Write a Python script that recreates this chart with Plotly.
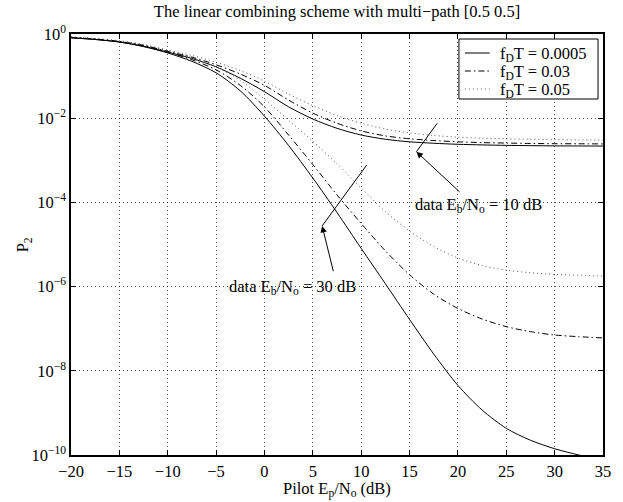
import plotly.graph_objects as go

# ---------------- data ----------------
pilot_snr = [-20, -17.5, -15, -12.5, -10, -7.5, -5, -2.5, 0, 2.5, 5, 7.5, 10, 12.5, 15, 17.5,
             20, 22.5, 25, 27.5, 30, 32.5, 35]

# data Eb/No = 10 dB
p_10db_fdt0005 = [0.813, 0.741, 0.646, 0.513, 0.372, 0.263, 0.166, 0.0891, 0.0427, 0.0186, 9.55e-3,
                  5.75e-3, 3.98e-3, 3.16e-3, 2.75e-3, 2.54e-3, 2.40e-3, 2.32e-3, 2.26e-3, 2.23e-3,
                  2.20e-3, 2.19e-3, 2.18e-3]
p_10db_fdt003 = [0.832, 0.759, 0.661, 0.537, 0.389, 0.282, 0.186, 0.112, 0.0603, 0.0269, 0.0132,
                 7.59e-3, 5.01e-3, 3.80e-3, 3.24e-3, 2.95e-3, 2.75e-3, 2.63e-3, 2.57e-3, 2.51e-3,
                 2.48e-3, 2.47e-3, 2.45e-3]
p_10db_fdt005 = [0.851, 0.776, 0.692, 0.562, 0.417, 0.309, 0.214, 0.135, 0.0759, 0.0372, 0.0200,
                 0.0115, 7.59e-3, 5.50e-3, 4.47e-3, 3.89e-3, 3.55e-3, 3.35e-3, 3.24e-3, 3.16e-3,
                 3.09e-3, 3.05e-3, 3.02e-3]

# data Eb/No = 30 dB
p_30db_fdt0005 = [0.813, 0.741, 0.646, 0.501, 0.355, 0.224, 0.120, 0.0447, 0.0112, 2.24e-3, 3.8e-4,
                  5.75e-5, 8.1e-6, 1.17e-6, 1.66e-7, 2.5e-8, 4.5e-9, 1.17e-9, 4.3e-10, 2.24e-10,
                  1.41e-10, 1.0e-10, 7.6e-11]
p_30db_fdt003 = [0.832, 0.759, 0.661, 0.525, 0.372, 0.245, 0.141, 0.0603, 0.0186, 3.98e-3, 7.94e-4,
                 1.51e-4, 3.16e-5, 7.08e-6, 1.91e-6, 6.61e-7, 3.02e-7, 1.70e-7, 1.12e-7, 8.51e-8,
                 7.08e-8, 6.46e-8, 6.03e-8]
p_30db_fdt005 = [0.851, 0.776, 0.676, 0.550, 0.398, 0.269, 0.166, 0.0794, 0.0282, 8.91e-3, 2.82e-3,
                 8.32e-4, 2.19e-4, 6.03e-5, 2.09e-5, 8.91e-6, 4.79e-6, 3.16e-6, 2.45e-6, 2.14e-6,
                 1.95e-6, 1.86e-6, 1.78e-6]

legend_labels = ["f<sub>D</sub>T = 0.0005", "f<sub>D</sub>T = 0.03", "f<sub>D</sub>T = 0.05"]
x_ticks = [-20, -15, -10, -5, 0, 5, 10, 15, 20, 25, 30, 35]
y_tick_vals = [1, 1e-2, 1e-4, 1e-6, 1e-8, 1e-10]
y_tick_text = ["10<sup>0</sup>", "10<sup>−2</sup>", "10<sup>−4</sup>", "10<sup>−6</sup>",
               "10<sup>−8</sup>", "10<sup>−10</sup>"]

# annotation marker lines (crossing marks) in data units
mark10_x = [15.71, 17.86]
mark10_y = [10 ** -2.796, 10 ** -2.121]
mark30_x = [5.96, 10.58]
mark30_y = [10 ** -4.56, 10 ** -3.11]

FONT = "Liberation Serif, Times New Roman, serif"
FS = 16.5

styles = [
    dict(color="black", width=1, dash="solid"),
    dict(color="black", width=1, dash="6px,3px,1.5px,3px"),
    dict(color="#555555", width=1, dash="1px,3px"),
]

fig = go.Figure()
series10 = [p_10db_fdt0005, p_10db_fdt003, p_10db_fdt005]
series30 = [p_30db_fdt0005, p_30db_fdt003, p_30db_fdt005]
for i in range(3):
    fig.add_trace(go.Scatter(x=pilot_snr, y=series10[i], mode="lines",
                             line=dict(shape="spline", smoothing=0.8, **styles[i]),
                             name=legend_labels[i], showlegend=False))
for i in range(3):
    fig.add_trace(go.Scatter(x=pilot_snr, y=series30[i], mode="lines",
                             line=dict(shape="spline", smoothing=0.8, **styles[i]),
                             name=legend_labels[i], showlegend=False))

for mx, my in [(mark10_x, mark10_y), (mark30_x, mark30_y)]:
    fig.add_trace(go.Scatter(x=mx, y=my, mode="lines", line=dict(color="black", width=1),
                             showlegend=False, hoverinfo="skip"))

# ---- pixel -> paper helpers for layout placement ----
PL, PR, PT, PB = 70.5, 606.0, 34.0, 455.0
def px(xp):
    return (xp - PL) / (PR - PL)
def py(yp):
    return 1 - (yp - PT) / (PB - PT)

annotations = [
    dict(x=15.71, y=-2.796, ax=20.33, ay=-3.784, axref="x", ayref="y", xref="x", yref="y",
         text="", showarrow=True, arrowhead=2, arrowsize=1.3, arrowwidth=1, arrowcolor="black"),
    dict(x=5.96, y=-4.56, ax=7.16, ay=-5.67, axref="x", ayref="y", xref="x", yref="y",
         text="", showarrow=True, arrowhead=2, arrowsize=1.3, arrowwidth=1, arrowcolor="black"),
    dict(x=22.15, y=-4.01, xref="x", yref="y", text="data E<sub>b</sub>/N<sub>o</sub> = 10 dB",
         showarrow=False, font=dict(family=FONT, size=FS, color="black"), yanchor="middle", yshift=-2),
    dict(x=2.95, y=-5.96, xref="x", yref="y", text="data E<sub>b</sub>/N<sub>o</sub> = 30 dB",
         showarrow=False, font=dict(family=FONT, size=FS, color="black"), yanchor="middle", yshift=-2),
    dict(x=0.5, y=py(489), xref="paper", yref="paper", text="Pilot E<sub>p</sub>/N<sub>o</sub> (dB)",
         showarrow=False, font=dict(family=FONT, size=FS, color="black"), yanchor="middle"),
    dict(x=px(22), y=0.5, xref="paper", yref="paper", text="P<sub>2</sub>", textangle=-90,
         xanchor="center", yanchor="middle",
         showarrow=False, font=dict(family=FONT, size=FS, color="black")),
]

# ---- legend drawn as a box with line samples and labels ----
LEG_L, LEG_R, LEG_T, LEG_B = 461, 601, 39, 99
row_y = [53, 71, 89]
shapes = [dict(type="rect", xref="paper", yref="paper", x0=px(LEG_L), x1=px(LEG_R), y0=py(LEG_B),
               y1=py(LEG_T), line=dict(color="black", width=1), fillcolor="white", layer="above")]
for i in range(3):
    shapes.append(dict(type="line", xref="paper", yref="paper", x0=px(467), x1=px(492),
                       y0=py(row_y[i]), y1=py(row_y[i]),
                       line=dict(color=styles[i]["color"], width=1, dash=styles[i]["dash"]), layer="above"))
    annotations.append(dict(x=px(500), y=py(row_y[i]), xref="paper", yref="paper", text=legend_labels[i],
                            xanchor="left", yanchor="middle", showarrow=False, yshift=-1,
                            font=dict(family=FONT, size=FS, color="black")))

fig.update_layout(
    width=623, height=502,
    margin=dict(l=70.5, r=17, t=34, b=47),
    paper_bgcolor="white", plot_bgcolor="white",
    font=dict(family=FONT, size=FS, color="black"),
    title=dict(text="The linear combining scheme with multi−path [0.5 0.5]", x=0.5, xref="paper",
               y=1 - 11 / 502, yref="container", yanchor="middle", xanchor="center",
               font=dict(family=FONT, size=FS, color="black")),
    showlegend=False,
    annotations=annotations,
    shapes=shapes,
)

fig.update_xaxes(range=[-20, 35], tickvals=x_ticks, showgrid=True, gridcolor="rgba(0,0,0,0.7)",
                 griddash="1px,3px", gridwidth=1, zeroline=False, showline=True, linecolor="black",
                 linewidth=1.5, mirror="ticks", ticks="inside", ticklen=5, tickcolor="black",
                 tickfont=dict(family=FONT, size=FS))
fig.update_yaxes(type="log", range=[-10, 0], tickvals=y_tick_vals, ticktext=y_tick_text, showgrid=True,
                 gridcolor="rgba(0,0,0,0.7)", griddash="1px,3px", gridwidth=1, zeroline=False, showline=True,
                 linecolor="black", linewidth=1.5, mirror="ticks", ticks="inside", ticklen=5, tickcolor="black",
                 tickfont=dict(family=FONT, size=FS))

fig.write_html("out.html")
